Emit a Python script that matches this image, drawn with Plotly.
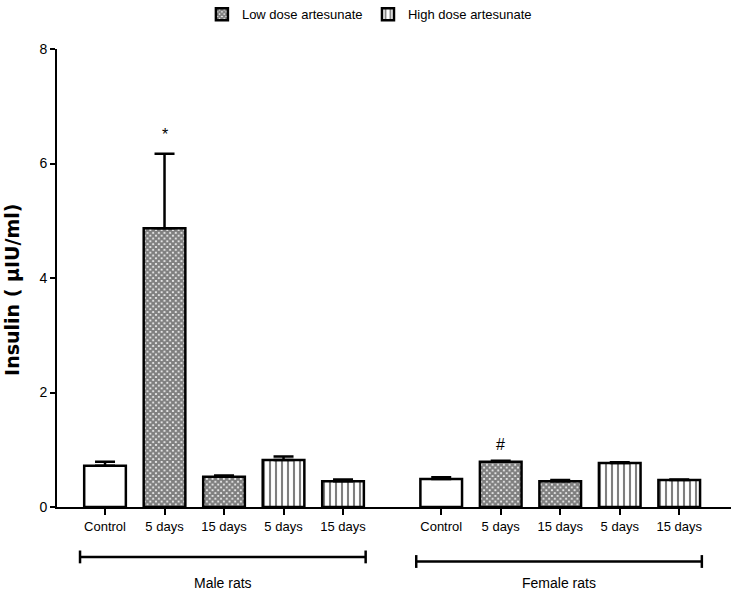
import plotly.graph_objects as go

# ---- data ----
groups = ["Male rats", "Female rats"]
tick_labels = ["Control", "5 days", "15 days", "5 days", "15 days"]
control_mean = [0.72, 0.49]
control_err = [0.07, 0.03]
low_mean = [[4.87, 0.53], [0.79, 0.45]]     # per group: 5 days, 15 days
low_err = [[1.30, 0.02], [0.02, 0.02]]
high_mean = [[0.82, 0.45], [0.77, 0.47]]
high_err = [[0.06, 0.03], [0.01, 0.01]]
marks = ["*", "#"]  # above low-dose 5 days in each group

FONT = "Liberation Sans, Arial, sans-serif"
group_offset = [0.0, 5.65]
BW = 0.7

def pos(g, i):
    return group_offset[g] + i

fig = go.Figure()

# Control
fig.add_trace(go.Bar(
    x=[pos(g, 0) for g in range(2)], y=control_mean, width=BW,
    marker=dict(color="white", line=dict(color="black", width=2.5)),
    error_y=dict(type="data", array=control_err, arrayminus=[0, 0], symmetric=False,
                 color="black", thickness=2.5, width=10),
    showlegend=False, name="Control"))

# Low dose
fig.add_trace(go.Bar(
    x=[pos(g, i) for g in range(2) for i in (1, 2)],
    y=[v for g in range(2) for v in low_mean[g]], width=BW,
    marker=dict(color="white", line=dict(color="black", width=2.5),
                pattern=dict(shape="x", fgcolor="black", bgcolor="white", size=4, solidity=0.8)),
    error_y=dict(type="data", array=[v for g in range(2) for v in low_err[g]],
                 arrayminus=[0] * 4, symmetric=False, color="black", thickness=2.5, width=10),
    name="Low dose artesunate", legend="legend"))

# High dose
fig.add_trace(go.Bar(
    x=[pos(g, i) for g in range(2) for i in (3, 4)],
    y=[v for g in range(2) for v in high_mean[g]], width=BW,
    marker=dict(color="white", line=dict(color="black", width=2.5),
                pattern=dict(shape="|", fgcolor="black", bgcolor="white", size=6, solidity=0.35)),
    error_y=dict(type="data", array=[v for g in range(2) for v in high_err[g]],
                 arrayminus=[0] * 4, symmetric=False, color="black", thickness=2.5, width=10),
    name="High dose artesunate", legend="legend2"))

tickvals = [pos(g, i) for g in range(2) for i in range(5)]
ticktext = tick_labels * 2

shapes = []
annotations = []
for g in range(2):
    x0 = pos(g, 0) - 0.42
    x1 = pos(g, 4) + 0.38
    yb = -0.109 if g == 0 else -0.119
    shapes.append(dict(type="line", xref="x", yref="paper", x0=x0, x1=x1, y0=yb, y1=yb,
                       line=dict(color="black", width=2.5)))
    for xe in (x0, x1):
        shapes.append(dict(type="line", xref="x", yref="paper", x0=xe, x1=xe,
                           y0=yb - 0.014, y1=yb + 0.014, line=dict(color="black", width=2.5)))
    annotations.append(dict(x=(x0 + x1) / 2, y=-0.167, xref="x", yref="paper",
                            text=groups[g], showarrow=False, yanchor="middle",
                            font=dict(family=FONT, size=14, color="black")))
    top = low_mean[g][0] + low_err[g][0]
    annotations.append(dict(x=pos(g, 1), y=top, xref="x", yref="y", text=marks[g],
                            showarrow=False, yanchor="bottom", yshift=9 if g == 0 else 6,
                            font=dict(family=FONT, size=16, color="black")))

# y-axis title as annotation for exact placement
annotations.append(dict(x=0, xref="paper", xshift=-45, y=0.474, yref="paper",
                        text="<b>Insulin ( µIU/ml)</b>", textangle=-90, showarrow=False,
                        xanchor="center", yanchor="middle", borderpad=0,
                        font=dict(family="DejaVu Sans, sans-serif", size=19, color="black")))

legend_common = dict(orientation="h", xanchor="left", y=1.076, yanchor="middle",
                     font=dict(family=FONT, size=13), itemwidth=30,
                     bgcolor="rgba(0,0,0,0)")

fig.update_layout(
    width=731, height=594,
    margin=dict(l=57, r=0, t=49, b=87, autoexpand=False),
    paper_bgcolor="white", plot_bgcolor="white",
    barmode="overlay",
    font=dict(family=FONT, size=13, color="black"),
    legend=dict(x=0.215, **legend_common),
    legend2=dict(x=0.4614, **legend_common),
    shapes=shapes, annotations=annotations,
)
fig.update_xaxes(range=[-0.807, 10.52], tickvals=tickvals, ticktext=ticktext,
                 showline=True, linecolor="black", linewidth=2, ticks="outside",
                 ticklen=6, tickwidth=2, tickcolor="black", showgrid=False, zeroline=False,
                 tickfont=dict(family=FONT, size=13))
fig.update_yaxes(range=[0, 8], tickvals=[0, 2, 4, 6, 8], showline=True, linecolor="black",
                 linewidth=2, ticks="outside", ticklen=5, tickwidth=2, tickcolor="black",
                 showgrid=False, zeroline=False, tickfont=dict(family=FONT, size=14))

fig.write_html("out.html", config={"displayModeBar": False},
               post_script="document.body.style.margin='0';")
